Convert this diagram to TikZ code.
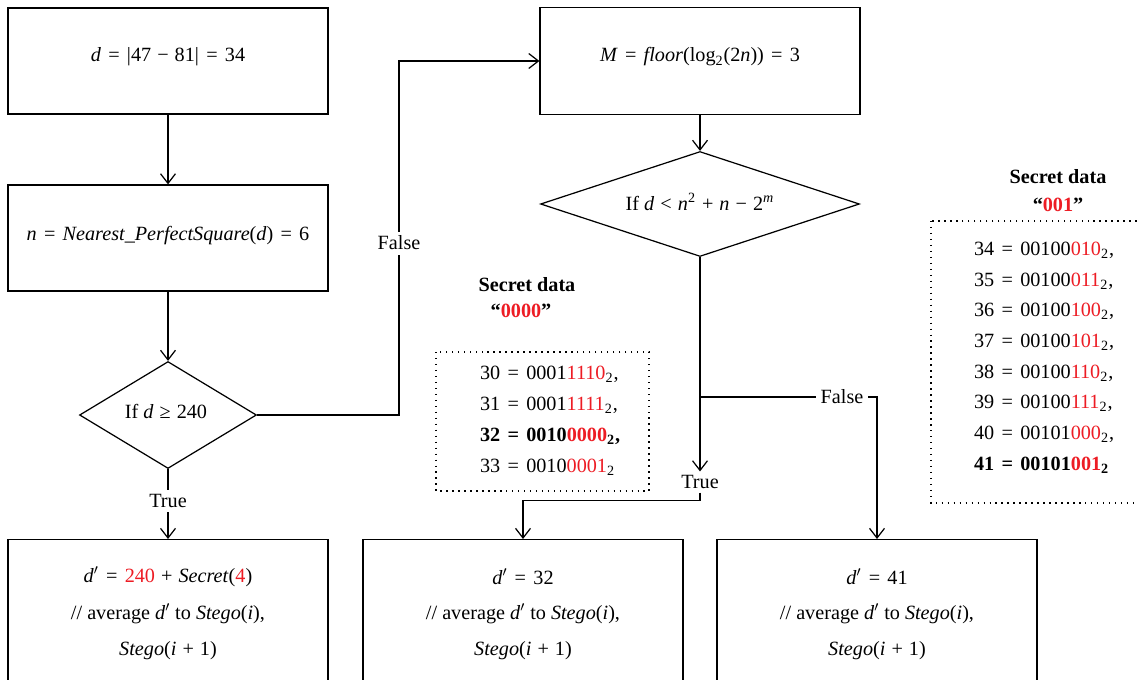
\documentclass[tikz,border=0pt]{standalone}
\usepackage{fontspec}
\setmainfont{Liberation Serif}
\usetikzlibrary{shapes.geometric,arrows.meta}
\definecolor{sred}{RGB}{237,28,36}
\newcommand{\rd}[1]{\textcolor{sred}{#1}}
\newcommand{\iv}[1]{\textit{#1}}
\newcommand{\dpr}{\textit{d}$'$}
\newcommand{\eq}{\hspace{0.36em}=\hspace{0.36em}}
\newcommand{\bop}[1]{\hspace{0.3em}#1\hspace{0.3em}}
\tikzset{
  txt/.style={font=\fontsize{11.5}{14}\selectfont, inner sep=1pt},
  box/.style={draw, line width=0.7pt, rectangle, minimum width=6.4cm, inner sep=0pt},
  dia/.style={draw, line width=0.7pt, diamond, inner sep=0pt},
  arr/.style={line width=0.7pt, -{Straight Barb[length=5.5pt,width=8.5pt]}},
  ln/.style={line width=0.7pt},
  lbl/.style={txt, fill=white, inner sep=2.5pt},
  dotbox/.style={line width=0.8pt, dash pattern=on 0.8pt off 2.6pt},
}
\begin{document}
\begin{tikzpicture}[x=0.02cm, y=-0.02cm]
\useasboundingbox (0,0) rectangle (1138,679);
\clip (0,0) rectangle (1138,679);
% boxes
\node[box, minimum height=2.12cm] (A) at (168,61) {};
\node[box, minimum height=2.12cm] (B) at (168,238) {};
\node[box, minimum height=2.14cm] (C) at (700,61) {};
\node[dia, minimum width=3.54cm, minimum height=2.14cm] (D1) at (168,415) {};
\node[dia, minimum width=6.38cm, minimum height=2.1cm] (D2) at (700,204) {};
\node[box, minimum height=3.4cm, anchor=north] (E1) at (168,539) {};
\node[box, minimum height=3.4cm, anchor=north] (E2) at (523,539) {};
\node[box, minimum height=3.4cm, anchor=north] (E3) at (877,539) {};
% texts
\node[txt] (tA) at (168,57) {\iv{d}\eq|47\bop{−}81|\eq34};
\node[txt] (tB) at (168,236) {\iv{n}\eq\iv{Nearest\_PerfectSquare}(\iv{d})\eq6};
\node[txt] (tC) at (700,57) {\iv{M}\eq\iv{floor}(log\textsubscript{2}(2\iv{n}))\eq3};
\node[txt] (tD1) at (166,411) {If \iv{d}\bop{≥}240};
\node[txt] (tD2) at (700,202) {If \iv{d}\bop{<}\iv{n}\textsuperscript{2}\bop{+}\iv{n}\bop{−}2\textsuperscript{\iv{m}}};
\node[txt] (e1a) at (168,577) {\dpr\eq\rd{240}\bop{+}\iv{Secret}(\rd{4})};
\node[txt] (e1b) at (168,614) {// average \dpr{} to \iv{Stego}(\iv{i}),};
\node[txt] (e1c) at (168,651) {\iv{Stego}(\iv{i}\bop{+}1)};
\node[txt] (e2a) at (523,577) {\dpr\eq32};
\node[txt] (e2b) at (523,614) {// average \dpr{} to \iv{Stego}(\iv{i}),};
\node[txt] (e2c) at (523,651) {\iv{Stego}(\iv{i}\bop{+}1)};
\node[txt] (e3a) at (877,577) {\dpr\eq41};
\node[txt] (e3b) at (877,614) {// average \dpr{} to \iv{Stego}(\iv{i}),};
\node[txt] (e3c) at (877,651) {\iv{Stego}(\iv{i}\bop{+}1)};
% secret data 1
\node[txt] (s1a) at (527,285) {\textbf{Secret data}};
\node[txt] (s1b) at (521,311) {\textbf{“\rd{0000}”}};
\draw[dotbox] (436,352) rectangle (649,491);
\node[txt, anchor=west] (r30) at (478,374) {30\eq0001\rd{1110}\textsubscript{2},};
\node[txt, anchor=west] (r31) at (478,405) {31\eq0001\rd{1111}\textsubscript{2},};
\node[txt, anchor=west] (r32) at (478,436) {\textbf{32\eq0010\rd{0000}\textsubscript{2},}};
\node[txt, anchor=west] (r33) at (478,467) {33\eq0010\rd{0001}\textsubscript{2}};
% secret data 2
\node[txt] (s2a) at (1058,177) {\textbf{Secret data}};
\node[txt] (s2b) at (1058,205) {\textbf{“\rd{001}”}};
\draw[dotbox] (931,221) rectangle (1170,503);
\node[txt, anchor=west] (r34) at (972,250) {34\eq00100\rd{010}\textsubscript{2},};
\node[txt, anchor=west] (r35) at (972,281) {35\eq00100\rd{011}\textsubscript{2},};
\node[txt, anchor=west] (r36) at (972,311) {36\eq00100\rd{100}\textsubscript{2},};
\node[txt, anchor=west] (r37) at (972,342) {37\eq00100\rd{101}\textsubscript{2},};
\node[txt, anchor=west] (r38) at (972,373) {38\eq00100\rd{110}\textsubscript{2},};
\node[txt, anchor=west] (r39) at (972,403) {39\eq00100\rd{111}\textsubscript{2},};
\node[txt, anchor=west] (r40) at (972,434) {40\eq00101\rd{000}\textsubscript{2},};
\node[txt, anchor=west] (r41) at (972,465) {\textbf{41\eq00101\rd{001}\textsubscript{2}}};
% connectors
\draw[arr] (A.south) -- (B.north);
\draw[arr] (B.south) -- (D1.north);
\coordinate (fx) at (399,415);
\draw[arr] (D1.east) -- (fx) |- (C.west);
\node[lbl] (f1) at (399,243) {False};
\draw[arr] (D1.south) -- (E1.north);
\node[lbl] (t1) at (168,501) {True};
\draw[arr] (C.south) -- (D2.north);
\coordinate (j) at (700,397);
\draw[ln] (D2.south) -- (j);
\node[txt, inner sep=2pt] (t2) at (700,482) {True};
\draw[arr] (j) -- (t2.north);
\draw[arr] (t2.south) -- ++(0,8) -| (E2.north);
\draw[arr] (j) -| (E3.north);
\node[lbl] (f2) at (842,397) {False};
\end{tikzpicture}
\end{document}
